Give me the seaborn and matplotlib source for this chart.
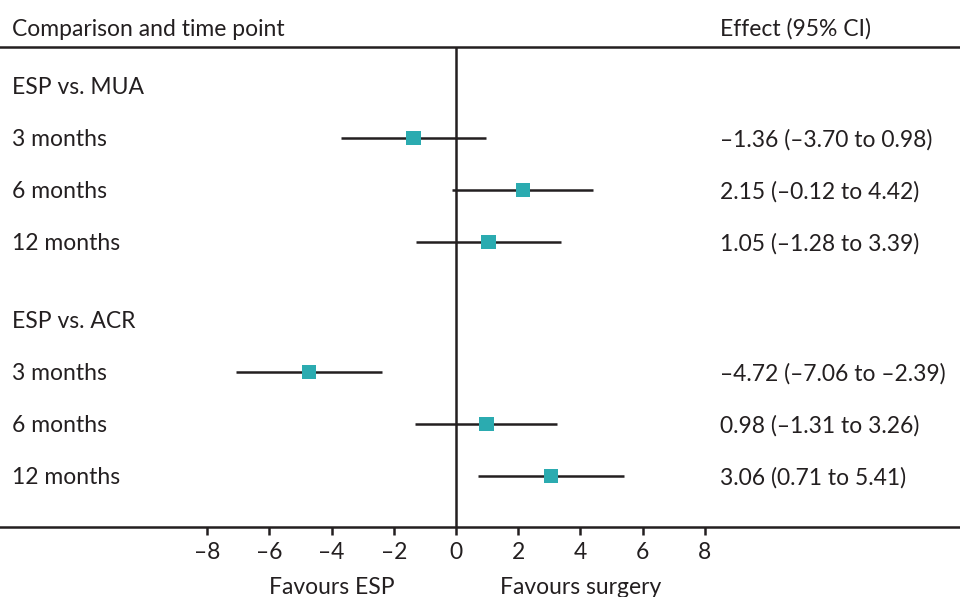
import numpy as np
import pandas as pd
import seaborn as sns
import matplotlib.pyplot as plt
from matplotlib.ticker import FuncFormatter

# data
groups = ['ESP vs. MUA', 'ESP vs. ACR']
timepoints = ['3 months', '6 months', '12 months']
effect = [-1.36, 2.15, 1.05, -4.72, 0.98, 3.06]
lower = [-3.70, -0.12, -1.28, -7.06, -1.31, 0.71]
upper = [0.98, 4.42, 3.39, -2.39, 3.26, 5.41]
group_rows = [0, 4.5]
rows = [1, 2, 3, 5.5, 6.5, 7.5]
ticks = [-8, -6, -4, -2, 0, 2, 4, 6, 8]

df = pd.DataFrame({'row': rows, 'effect': effect, 'lower': lower, 'upper': upper,
                   'label': timepoints * 2})

sns.set_style('white')
plt.rcParams['font.family'] = ['Lato', 'DejaVu Sans']
ink = '#231f20'
teal = '#2babb0'
fs = 16.5
dy = 0.035  # small nudge so text sits on the row like the original

fig = plt.figure(figsize=(9.6, 5.97), dpi=100)
ax = fig.add_axes([0, 70 / 597, 1, 480 / 597])

ax.hlines(df['row'], df['lower'], df['upper'], color=ink, lw=1.8, zorder=2)
sns.scatterplot(data=df, x='effect', y='row', marker='s', s=110, color=teal,
                edgecolor='none', ax=ax, zorder=3)
ax.axvline(0, color=ink, lw=1.8, zorder=1)

x_left = -456 / 31.1
x_right = 504 / 31.1
ax.set_xlim(x_left, x_right)
ax.set_ylim(8.48, -0.75)

for s in ['left', 'right']:
    ax.spines[s].set_visible(False)
for s in ['top', 'bottom']:
    ax.spines[s].set_color(ink)
    ax.spines[s].set_linewidth(1.8)

ax.set_xticks(ticks)
ax.xaxis.set_major_formatter(FuncFormatter(lambda v, p: f'{v:.0f}'.replace('-', '–')))
ax.tick_params(axis='x', direction='out', length=6, width=1.8, color=ink,
               labelsize=fs, labelcolor=ink, pad=5, bottom=True)
ax.set_yticks([])
ax.set_xlabel('')
ax.set_ylabel('')

# left text column
x_txt = x_left + 12 / 31.1
x_eff = x_left + 720 / 31.1
for g, r in zip(groups, group_rows):
    ax.text(x_txt, r + dy, g, fontsize=fs, color=ink, va='center', ha='left')
for _, d in df.iterrows():
    ax.text(x_txt, d['row'] + dy, d['label'], fontsize=fs, color=ink, va='center', ha='left')
    txt = f"{d['effect']:.2f} ({d['lower']:.2f} to {d['upper']:.2f})".replace('-', '–')
    ax.text(x_eff, d['row'] + dy, txt, fontsize=fs, color=ink, va='center', ha='left')

# header
ax.text(x_txt, -1.13 + dy, 'Comparison and time point', fontsize=fs, color=ink,
        va='center', ha='left', clip_on=False)
ax.text(x_eff, -1.13 + dy, 'Effect (95% CI)', fontsize=fs, color=ink,
        va='center', ha='left', clip_on=False)

# favours labels
ax.text(-4, 9.65, 'Favours ESP', fontsize=fs, color=ink, va='center', ha='center', clip_on=False)
ax.text(4, 9.65, 'Favours surgery', fontsize=fs, color=ink, va='center', ha='center', clip_on=False)

fig.savefig('out.png', dpi=100)
